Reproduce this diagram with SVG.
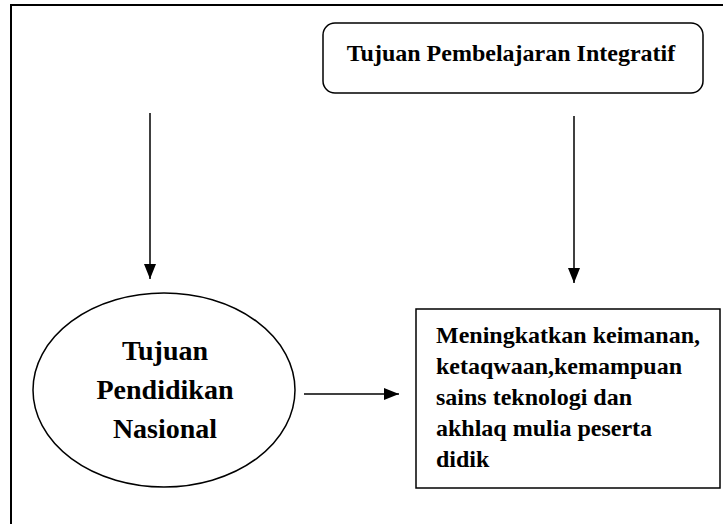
<svg xmlns="http://www.w3.org/2000/svg" width="723" height="524" viewBox="0 0 723 524">
<style>
.t{font-family:"Liberation Serif","Times New Roman",serif;font-weight:bold;fill:#000}
.s{fill:none;stroke:#000}
</style>
<defs>
<marker id="ahv" viewBox="0 0 10 10" refX="10" refY="5" markerWidth="15" markerHeight="12" markerUnits="userSpaceOnUse" orient="auto" preserveAspectRatio="none">
<path d="M0,0 L10,5 L0,10 Z" fill="#000"/>
</marker>
</defs>
<rect width="723" height="524" fill="#fff"/>
<g id="frame">
<path class="s" d="M11,530 L11,5 L730,5" stroke-width="2"/>
</g>
<g id="node-pembelajaran">
<rect class="s" x="323" y="23" width="380" height="70" rx="12" ry="12" stroke-width="1.5"/>
<text class="t" x="511" y="61" font-size="24" text-anchor="middle">Tujuan Pembelajaran Integratif</text>
</g>
<g id="node-nasional">
<ellipse class="s" cx="164" cy="390" rx="131" ry="97" stroke-width="1.5"/>
<text class="t" font-size="28" text-anchor="middle"><tspan x="165" y="360">Tujuan</tspan><tspan x="165" y="399">Pendidikan</tspan><tspan x="165" y="438">Nasional</tspan></text>
</g>
<g id="node-tujuan">
<rect class="s" x="416" y="309" width="304" height="179" stroke-width="1.5"/>
<text class="t" font-size="24"><tspan x="436" y="343">Meningkatkan keimanan,</tspan><tspan x="436" y="374">ketaqwaan,kemampuan</tspan><tspan x="436" y="405">sains teknologi dan</tspan><tspan x="436" y="436">akhlaq mulia peserta</tspan><tspan x="436" y="467">didik</tspan></text>
</g>
<g id="connectors">
<line class="s" x1="150" y1="113" x2="150" y2="279" stroke-width="1.5" marker-end="url(#ahv)"/>
<line class="s" x1="574" y1="116" x2="574" y2="283" stroke-width="1.5" marker-end="url(#ahv)"/>
<line class="s" x1="304" y1="394" x2="399" y2="394" stroke-width="1.5" marker-end="url(#ahv)"/>
</g>
</svg>
